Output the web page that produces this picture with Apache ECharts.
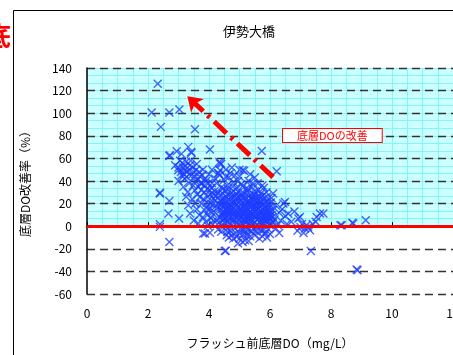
<!DOCTYPE html>
<html><head><meta charset="utf-8">
<script src="https://cdn.jsdelivr.net/npm/echarts@6/dist/echarts.min.js"></script>
<style>html,body{margin:0;padding:0;background:#fff}#c{width:453px;height:355px}</style>
</head><body><div id="c"></div>
<script>
const chartTitle = '伊勢大橋';
const xName = 'フラッシュ前底層DO（mg/L）';
const yName = '底層DO改善率（%）';
const noteText = '底層DOの改善';
const xRange = [0, 12];
const xStep = 2;
const yRange = [-60, 140];
const yStep = 20;

// [flush-before bottom DO (mg/L), improvement (%)]
const upperPoints = [
  [2.32,126],[2.12,100.6],[2.70,100.6],[3.03,103.3],[2.42,87.9],[3.54,85.8],
  [4.03,67.9],[5.73,66.6],[3.32,70.2],[3.43,64.9],[2.94,66.4],[2.72,62.8],[3.10,64],
  [4.34,56.9],[4.36,49.5],[5.10,49.5],[6.22,48.7],[3.41,65.7],[2.70,62.2]
];
const leftCloud = [
  [2.89,54],[2.99,49.5],[3.21,49.5],[3.38,54],[3.43,45],[3.27,43.6],[4.36,55.5],[4.31,46.6],
  [2.39,29.5],[2.70,22.4],[2.67,11.2],[3.02,6.8],[3.38,11.2],[3.65,2.4],[3.32,18.6],[3.16,34.8],
  [3.54,31.9],[3.70,25.9],[3.76,37.8],[4.03,31.9],[4.20,23],[4.42,34.8],[3.92,17.1],[2.39,28.9],
  [3.05,58],[3.15,52],[3.25,57],[3.50,48],[3.60,55],[3.70,44],[3.80,50],[3.90,40],[4.00,46],
  [4.10,38],[3.55,40],[3.65,35],[3.85,30],[3.95,26],[4.05,20],[4.10,12],[3.80,8],[3.90,4],
  [4.00,14],[3.60,15],[3.75,20],[3.45,24],[3.30,30],[3.50,5],[4.15,28],[4.15,5],[3.95,10],
  [3.20,42],[3.10,45],[3.00,40],[2.39,1.8],[2.39,-0.6],
  [3.00,52],[3.08,48],[3.12,56],[3.18,46],[3.22,53],[3.28,48],[3.35,50],[3.40,58],[3.46,52],
  [3.52,44],[3.58,50],[3.64,42],[3.68,48],[3.72,38],[3.78,45],[3.84,36],[3.88,42],[3.94,33],
  [3.98,38],[4.04,28],[4.08,34],[4.14,24],[4.18,31],[4.24,18],[3.48,36],[3.62,28],[3.74,32],
  [3.82,24],[3.92,21],[4.02,16],[4.12,19],[3.55,20],[3.35,38],[3.25,26],[3.68,10],[3.86,14],
  [4.06,7],[4.12,2],[3.96,0.5]
];
const denseCloud = [
  [4.20,12],[4.25,5],[4.30,20],[4.35,8],[4.40,15],[4.45,2],[4.50,25],[4.50,10],[4.55,18],[4.60,4],
  [4.60,28],[4.65,13],[4.70,7],[4.70,22],[4.75,1],[4.80,16],[4.80,31],[4.85,9],[4.90,3],[4.90,19],
  [4.95,26],[5.00,11],[5.00,6],[5.05,14],[5.05,23],[5.10,2],[5.10,17],[5.15,29],[5.20,8],[5.20,12],
  [5.25,21],[5.25,4],[5.30,15],[5.30,27],[5.35,1],[5.35,10],[5.40,18],[5.40,6],[5.45,24],[5.50,13],
  [5.50,3],[5.55,20],[5.55,9],[5.60,16],[5.60,1],[5.65,26],[5.70,11],[5.70,5],[5.75,19],[5.80,14],
  [5.80,2],[5.85,8],[5.90,22],[5.90,12],[5.95,4],[6.00,17],[6.00,7],[6.05,10],[6.10,3],[6.10,14],
  [4.22,27],[4.28,16],[4.33,3],[4.38,23],[4.43,11],[4.48,6],[4.53,32],[4.58,14],[4.63,9],[4.68,19],
  [4.73,26],[4.78,4],[4.83,12],[4.88,24],[4.93,7],[4.98,17],[5.03,1],[5.08,28],[5.13,10],[5.18,5],
  [5.23,16],[5.28,33],[5.33,7],[5.38,13],[5.43,2],[5.48,19],[5.53,28],[5.58,6],[5.63,12],[5.68,17],
  [5.73,2],[5.78,24],[5.83,10],[5.88,30],[5.93,15],[5.98,1],[6.03,21],[6.08,8],[4.47,18],[4.57,21],
  [4.67,3],[4.77,10],[4.87,14],[4.97,30],[5.07,8],[5.17,20],[5.27,11],[5.37,24],[5.47,9],[5.57,14],
  [5.67,8],[5.77,6],[5.87,18],[5.97,11],[6.15,6],[6.20,18],[6.25,1],
  [4.25,38],[4.35,45],[4.45,33],[4.50,41],[4.60,36],[4.70,47],[4.80,39],[4.90,34],[5.00,44],[5.05,37],
  [5.15,49],[5.20,33],[5.30,40],[5.40,35],[5.50,31],[5.60,38],[5.70,29],[5.80,34],[4.40,55],[4.55,50],
  [4.75,52],[4.30,47],[4.65,43],
  [4.42,21],[4.46,13],[4.52,7],[4.56,26],[4.62,17],[4.66,10],[4.72,29],[4.76,14],[4.82,6],[4.86,21],
  [4.92,11],[4.96,2],[5.02,19],[5.06,26],[5.12,5],[5.16,13],[5.22,24],[5.26,9],[5.32,19],[5.36,3],
  [5.42,15],[5.46,28],[5.52,7],[5.56,17],[5.62,23],[5.66,4],[5.72,14],[5.76,27],[5.82,5],[5.86,15],
  [5.92,8],[5.96,20],[6.02,13],[6.06,4],
  [4.44,9],[4.54,15],[4.64,24],[4.74,18],[4.84,27],[4.94,13],[5.04,8],[5.14,25],[5.24,14],[5.34,22],
  [5.44,10],[5.54,25],[5.64,19],[5.74,10],[5.84,21],[5.94,9],
  [4.51,3],[4.61,12],[4.71,16],[4.81,22],[4.91,8],[5.01,15],[5.11,21],[5.21,3],[5.31,9],[5.41,26],
  [5.51,18],[5.61,10],[5.71,22],[5.81,17],[5.91,3],[6.01,9],
  [4.36,27],[4.41,19],[4.49,22],[4.59,8],[4.69,14],[4.79,20],[4.89,29],[4.99,22],[5.09,12],[5.19,17],
  [5.29,6],[5.39,20],[5.49,16],[5.59,22],[5.69,13],[5.79,9],[5.89,5],[5.99,14],
  [4.30,30],[4.45,29],[4.62,33],[4.78,35],[4.95,40],[5.12,36],[5.26,30],[5.44,38],[5.62,32],[5.75,36],
  [4.85,45],[5.00,50],[4.55,44],[4.20,42],[4.10,50],[5.35,46],[5.50,43],[5.90,26],[6.05,25],[6.10,29]
];
const tailPoints = [
  [6.49,21.5],[6.44,20],[6.30,12],[6.35,5],[6.40,15],[6.50,9],[6.55,2],[6.60,11],[6.70,4],[6.80,13],
  [6.93,6.8],[6.98,8.2],[7.05,2],[7.15,-2],[7.20,1],[7.31,-3.5],[7.25,-1],[7.40,2],[7.53,8.2],[7.64,11.2],
  [7.75,11.2],[7.50,4],[8.31,0.9],[8.35,0.9],[8.70,3],[8.73,2.4],[9.14,5.3],[7.00,-1],[6.90,-4],[7.10,-6],
  [6.20,-2],[6.30,-6]
];
const negativePoints = [
  [4.52,-22],[4.55,-21.8],[7.34,-22],[8.87,-38.9],[8.84,-38.3],[3.81,-6.5],[3.87,-6.5],[4.03,-5.9],
  [4.58,-8],[4.90,-9.4],[5.18,-12.4],[5.24,-8],[5.84,-6.5],[4.30,-3],[4.40,-5],[4.70,-4],[4.80,-11],
  [5.00,-6],[5.10,-14],[5.30,-3],[5.40,-5],[5.50,-8],[5.60,-2],[5.70,-4],[5.90,-10],[5.95,-3],
  [6.00,-7],[4.60,-2],[5.20,-1],[5.05,-3],[4.95,-15],[5.75,-9],[2.70,-13.9],
  [4.60,-5],[4.75,-8],[4.85,-2],[5.00,-11],[5.15,-4],[5.25,-6],[5.35,-9],[5.45,-2],[5.55,-5],
  [5.65,-11],[5.80,-3],[5.85,-6],[4.45,-1],[4.65,-10],[5.12,-7],[5.30,-13],[4.88,-6],[5.58,-1]
];
const arrowFrom = [6.10, 43.4];
const arrowTo = [3.29, 115.0];

const allPoints = upperPoints.concat(leftCloud, denseCloud, tailPoints, negativePoints);
const font = '"Noto Sans CJK JP", "Noto Sans", sans-serif';

const chart = echarts.init(document.getElementById('c'), null, {renderer: 'canvas'});
chart.setOption({
  animation: false,
  backgroundColor: '#ffffff',
  title: {
    text: chartTitle, left: 218, top: 20,
    textStyle: {fontSize: 13, fontWeight: 'normal', color: '#000', fontFamily: font}
  },
  graphic: [
    {type: 'rect', z: -10, shape: {x: 13.5, y: 10.5, width: 600, height: 500},
     style: {fill: 'none', stroke: '#000', lineWidth: 1}},
    {type: 'text', left: -15, top: 23,
     style: {text: '底', fill: '#ff0000', font: 'bold 26px ' + font}},
    {type: 'text', left: 282, top: 128, z: 20,
     style: {text: noteText, fill: '#ff0000', font: '11px ' + font,
             backgroundColor: '#fff', borderColor: '#ff0000', borderWidth: 1,
             padding: [1, 14, 1, 14]}}
  ],
  grid: [
    {left: 87, top: 68, width: 366, height: 226, z: 2, containLabel: false, outerBoundsMode: 'none'},
    {left: 87, top: 68, width: 366, height: 158.2, z: 0, show: true, containLabel: false,
     outerBoundsMode: 'none', backgroundColor: '#ccffff', borderWidth: 0}
  ],
  xAxis: [
    {gridIndex: 0, type: 'value', min: xRange[0], max: xRange[1], interval: xStep, z: 3,
     name: xName, nameLocation: 'middle', nameGap: 43,
     nameTextStyle: {fontSize: 12, color: '#000', fontFamily: font},
     axisLine: {lineStyle: {color: '#000', width: 1.5}},
     axisTick: {inside: true, length: 4, lineStyle: {color: '#000'}},
     axisLabel: {fontSize: 12, color: '#000', margin: 13, fontFamily: font, showMaxLabel: true, hideOverlap: false},
     splitLine: {show: false}},
    {gridIndex: 1, type: 'value', min: 0, max: 12, interval: 0.5, z: 0,
     axisLine: {show: false}, axisTick: {show: false}, axisLabel: {show: false},
     splitLine: {show: true, lineStyle: {color: '#80f8f8', width: 1}}}
  ],
  yAxis: [
    {gridIndex: 0, type: 'value', min: yRange[0], max: yRange[1], interval: yStep, z: 3,
     name: yName, nameLocation: 'middle', nameGap: 56, nameRotate: 90,
     nameTextStyle: {fontSize: 12, color: '#000', fontFamily: font},
     axisLine: {show: true, lineStyle: {color: '#000', width: 1.5}},
     axisTick: {show: false},
     axisLabel: {fontSize: 12, color: '#000', margin: 15, fontFamily: font},
     splitLine: {show: true, lineStyle: {color: '#333', width: 1.3, type: [8, 5]}}},
    {gridIndex: 1, type: 'value', min: 0, max: 140, interval: 20 / 3, z: 0,
     axisLine: {show: false}, axisTick: {show: false}, axisLabel: {show: false},
     splitLine: {show: true, lineStyle: {color: '#80f8f8', width: 1}}}
  ],
  series: [
    {type: 'scatter', xAxisIndex: 0, yAxisIndex: 0, z: 4,
     data: allPoints,
     symbol: 'path://M0,0L10,10M10,0L0,10', symbolSize: 8,
     itemStyle: {color: 'rgba(0,0,0,0)', borderColor: '#1e3cff', borderWidth: 1.4}},
    {type: 'scatter', xAxisIndex: 0, yAxisIndex: 0, z: 6, data: [],
     markLine: {
       silent: true, animation: false, z: 6, symbol: ['none', 'none'],
       data: [
         {yAxis: 0, lineStyle: {color: '#ff0000', width: 3, type: 'solid'}, label: {show: false}},
         [{coord: arrowFrom, symbol: 'none', lineStyle: {color: '#ff0000', width: 5, type: [17, 6, 3, 6], cap: 'butt'}},
          {coord: arrowTo, symbol: 'arrow', symbolSize: 14}]
       ],
       label: {show: false}
     }}
  ]
});
</script></body></html>
